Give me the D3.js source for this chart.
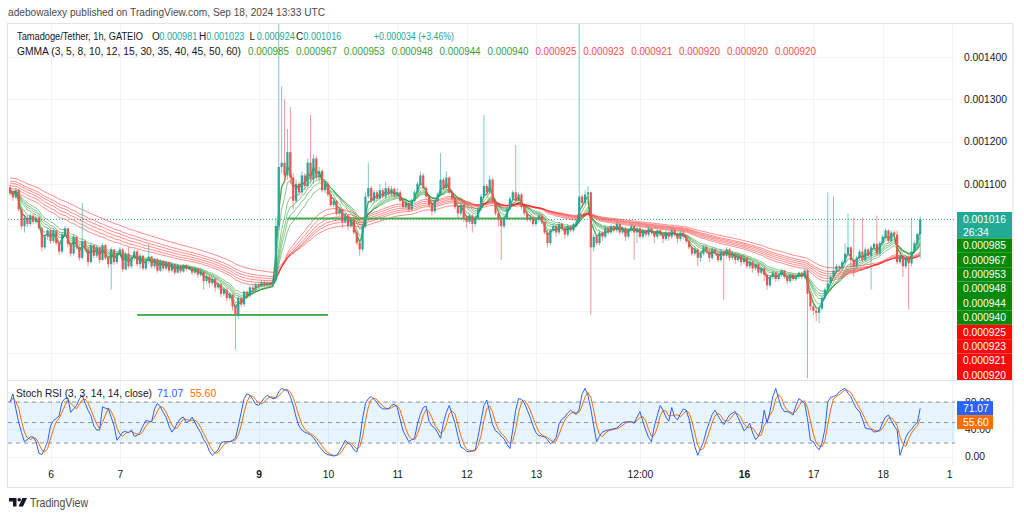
<!DOCTYPE html>
<html><head><meta charset="utf-8">
<script src="https://cdn.jsdelivr.net/npm/d3@7"></script>
<style>
body{margin:0;background:#fff;}
svg{display:block;font-family:"Liberation Sans",Arial,sans-serif;}
</style>
</head><body>
<svg id="c" width="1024" height="517"></svg>
<script>
// ---------- DATA (prices in units of 1e-6 USDT) ----------
const PRICE_UNIT = 1e-6;
const startTime = "2024-09-05T10:00:00Z"; // first hourly candle
const firstOpen = 1092;
const closes = [
1078,1068,1085,1040,1000,1020,1005,1025,1010,1020,995,950,975,990,
965,990,960,940,980,995,958,935,975,950,925,965,945,915,955,930,950,920,955,925,910,945,915,935,
945,898,935,905,925,940,910,930,900,918,928,905,922,895,918,900,915,895,910,890,906,893,908,900,
900,890,898,885,892,870,880,865,875,855,862,840,850,830,838,810,790,830,815,845,835,855,850,862,
858,868,860,866,862,872,1000,1140,1150,1120,1175,1115,1060,1100,1080,1120,1095,1150,1110,1160,1115,1130,1085,1100,
1075,1050,1060,1030,1040,1010,1025,1000,1015,985,960,945,1000,1070,1090,1060,1080,1065,1085,1070,1090,1075,1088,1072,
1080,1060,1045,1055,1040,1060,1080,1100,1120,1090,1070,1050,1035,1060,1075,1110,1090,1115,1080,1065,1045,1030,1050,1020,
1010,1025,1005,1020,1040,1070,1095,1080,1110,1060,1030,1015,1000,1020,1040,1065,1080,1060,1075,1045,1030,1015,1020,1005,
1015,1025,1010,985,960,990,1000,985,1005,995,980,1000,990,1005,1010,1070,1055,1075,1080,950,975,960,985,975,
995,985,1000,990,1005,985,995,975,990,1000,985,995,975,990,980,995,985,975,990,980,970,985,975,990,
980,970,985,975,965,950,935,945,925,935,950,940,925,945,935,920,940,930,945,925,935,920,930,915,
925,905,915,900,910,890,900,885,860,880,890,875,885,895,880,870,885,875,880,890,880,895,840,810,
800,795,805,830,850,865,880,895,905,900,915,935,950,920,905,925,940,920,945,930,950,958,935,960,
975,990,965,985,980,915,930,905,925,912,940,960,981,1016];
const highs = [
1098,1082,1090,1088,1045,1026,1024,1030,1028,1024,1022,998,980,996,
995,995,992,965,985,1000,996,962,980,976,955,1055,968,950,960,955,955,950,960,958,930,950,945,940,
950,948,940,950,930,945,944,935,932,922,958,930,925,924,922,920,918,917,914,912,910,908,910,910,
906,904,902,900,896,895,885,884,880,878,866,865,855,853,842,840,815,835,833,848,848,860,862,866,
866,872,872,870,870,878,1020,1490,1330,1300,1230,1282,1125,1110,1105,1130,1125,1160,1263,1170,1165,1140,1135,1110,
1105,1080,1065,1062,1045,1042,1030,1028,1020,1018,990,965,1005,1080,1150,1095,1085,1085,1100,1090,1105,1095,1095,1092,
1090,1085,1065,1060,1058,1065,1085,1105,1128,1125,1095,1075,1055,1065,1080,1173,1115,1130,1118,1085,1068,1050,1055,1052,
1025,1030,1028,1025,1045,1075,1263,1100,1120,1115,1065,1035,1020,1025,1045,1070,1085,1192,1080,1078,1050,1035,1025,1025,
1020,1030,1028,1012,990,995,1005,1003,1010,1008,998,1005,1002,1008,1015,1490,1075,1085,1095,1082,980,978,990,988,
1000,998,1004,1003,1010,1008,1000,998,994,1005,1003,998,998,994,992,998,997,988,994,993,982,990,988,995,
995,985,990,988,978,968,952,950,948,940,955,955,945,950,948,938,945,942,950,948,940,938,935,932,
930,928,918,918,912,912,903,902,888,883,895,892,888,898,897,884,888,888,885,893,892,900,898,845,
815,805,810,835,855,1080,885,1070,910,908,920,960,1030,952,1020,930,945,1020,950,948,955,962,1025,965,
980,995,992,990,990,990,935,932,930,930,1020,965,985,1023];
const lows = [
1072,1060,1064,1035,992,985,998,1000,1004,1005,990,940,945,968,
958,960,955,932,935,975,950,928,930,945,918,920,938,905,912,925,925,912,918,920,900,850,908,910,
930,892,895,900,900,918,905,900,895,895,910,900,900,890,892,895,895,890,892,885,888,888,890,894,
895,885,886,878,880,850,865,855,860,845,850,832,835,822,826,800,708,780,808,810,828,830,845,845,
852,855,855,858,856,858,865,990,1125,1105,1110,1100,1040,1055,1070,1075,1085,1090,1100,1100,1110,1105,1080,1078,
1070,1045,1045,1025,1025,995,1005,990,995,980,955,930,940,995,1065,1055,1055,1060,1060,1065,1065,1070,1070,1065,
1068,1055,1040,1040,1035,1035,1055,1075,1095,1085,1065,1045,1025,1030,1055,1070,1085,1085,1075,1060,1040,1020,1025,1010,
995,1005,985,1000,1015,1035,1065,1070,1075,1055,1025,1000,920,995,1015,1035,1060,1055,1055,1040,1025,1010,1010,1000,
1000,1010,1005,980,950,955,985,975,980,990,970,975,985,985,1000,1005,1045,1050,1070,790,940,955,955,965,
970,980,982,985,985,980,980,965,970,985,920,960,970,970,975,975,980,960,970,975,960,965,965,970,
975,960,965,970,960,945,930,930,905,915,930,935,915,920,930,915,915,826,925,918,920,910,915,905,
910,900,900,890,895,882,885,870,850,855,875,868,870,880,875,862,866,870,870,875,875,875,640,800,
790,775,771,800,825,845,860,875,890,895,895,910,930,900,880,900,920,915,915,925,850,945,930,930,
955,970,960,960,975,910,910,880,900,802,905,935,955,924];
// Stoch RSI %K (blue) read hourly; %D is its 3-bar average
const stochK = [
80,92,70,50,35,22,25,29,29,22,5,3,12,22,
45,53,56,60,80,85,86,65,70,75,85,90,78,68,60,45,39,39,73,71,70,58,45,24,
30,36,37,35,39,30,31,36,45,53,52,51,70,78,73,65,58,45,36,42,50,56,58,50,
52,58,50,42,35,25,19,8,2,6,10,20,22,22,22,24,27,45,65,85,92,90,84,77,
75,80,86,90,87,85,86,95,100,98,97,88,75,58,45,39,36,34,32,28,22,15,10,5,
3,2,1,2,8,16,24,20,17,10,7,25,55,78,85,88,84,79,73,70,70,70,75,77,
72,55,38,30,22,25,27,48,62,72,74,52,45,42,35,27,50,65,75,62,49,30,14,12,
8,7,9,10,30,53,75,83,65,47,38,35,30,26,18,12,40,68,85,84,79,68,58,45,
35,31,30,29,25,19,22,28,48,55,58,64,68,64,62,70,92,100,90,70,45,22,30,36,
38,39,40,41,42,46,50,51,51,51,49,58,66,52,39,28,22,45,60,75,68,58,52,72,
58,54,63,70,68,55,34,15,2,12,22,38,50,62,68,60,53,47,54,61,64,66,57,48,
38,42,49,35,25,30,40,68,49,66,88,100,85,72,66,66,64,61,75,85,82,78,55,24,
22,15,10,20,40,80,87,88,90,95,98,100,93,88,78,70,66,55,42,41,40,36,37,39,
50,58,61,53,45,39,2,15,28,36,40,46,50,71.07];
const gmmaPeriods = [3,5,8,10,12,15,30,35,40,45,50,60];
const gmmaSeed    = [1082,1082,1083,1084,1085,1086,1082,1090,1097,1103,1108,1116];
const gmmaLegend  = ["0.000985","0.000967","0.000953","0.000948","0.000944","0.000940","0.000925","0.000923","0.000921","0.000920","0.000920","0.000920"];
const symbolText = "Tamadoge/Tether, 1h, GATEIO";
const ohlcKeys = ["O","H","L","C"];
const ohlcVals = ["0.000981","0.001023","0.000924","0.001016"];
const changeText = "+0.000034 (+3.46%)";
const lastPrice = 1016, countdown = "26:34";
const stochLast = ["71.07","55.60"];
const xTickDates  = ["2024-09-06","2024-09-07","2024-09-09","2024-09-10","2024-09-11","2024-09-12","2024-09-13","2024-09-14T12:00","2024-09-16","2024-09-17","2024-09-18","2024-09-19"];
const xTickLabels = ["6","7","9","10","11","12","13","12:00","16","17","18","19"];
const xTickBold   = ["9","16"];
const priceGrid   = [700,800,900,1000,1100,1200,1300,1400];
const priceLabels = [1100,1200,1300,1400]; // lower labels are covered by the value boxes
const rsiTicks = [0,40,80];
const rsiBands = [80,50,20];
const trendLines = [
  {v:790,  from:"2024-09-07T06:00:00Z", to:"2024-09-10T00:00:00Z"},
  {v:1018, from:"2024-09-09T10:00:00Z", to:"2024-09-13T03:00:00Z"}];

// ---------- BUILD ----------
const svg = d3.select("#c");
const L = 8, R = 955, PT = 24, PB = 380, RT = 381, RB = 466;
const parseTick = d => new Date(d + (d.length > 10 ? ":00Z" : "T00:00:00Z"));
const xs = d3.scaleUtc().domain([new Date("2024-09-06T00:00:00Z"), new Date("2024-09-19T00:00:00Z")]).range([50.5, 952]);
const ys = d3.scaleLinear().domain([700,1400]).range([353,57]);
const yr = d3.scaleLinear().domain([0,100]).range([456.7,388.4]);
const t0 = new Date(startTime).getTime();
const candles = closes.map((c,i)=>{
  const o = i===0 ? firstOpen : closes[i-1];
  return {t:new Date(t0+i*3600e3), o, c, h:Math.max(highs[i],o,c), l:Math.min(lows[i],o,c)};
});
const defs = svg.append("defs");
defs.append("clipPath").attr("id","cp").append("rect").attr("x",L).attr("y",PT).attr("width",R-L).attr("height",PB-PT);
defs.append("clipPath").attr("id","cr").append("rect").attr("x",L).attr("y",RT).attr("width",R-L).attr("height",RB-RT);
defs.append("clipPath").attr("id","ca").append("rect").attr("x",L).attr("y",PT).attr("width",1013-L).attr("height",PB-PT);
defs.append("clipPath").attr("id","ct").append("rect").attr("x",L).attr("y",460).attr("width",953-L).attr("height",30);

// header
svg.append("text").attr("x",8).attr("y",16).attr("font-size",11).attr("fill","#4a4a4a")
  .attr("textLength",317).attr("lengthAdjust","spacingAndGlyphs")
  .text("adebowalexy published on TradingView.com, Sep 18, 2024 13:33 UTC");

// frame
svg.append("rect").attr("x",7.5).attr("y",23.5).attr("width",1005.5).attr("height",464).attr("fill","none").attr("stroke","#e0e3eb");
svg.append("line").attr("x1",8).attr("x2",1013).attr("y1",380.5).attr("y2",380.5).attr("stroke","#e0e3eb");

// gridlines
const grid = svg.append("g").attr("stroke","#f0f3fa").attr("stroke-width",1);
xTickDates.forEach(d=>{const x=Math.round(xs(parseTick(d)))+0.5;
  grid.append("line").attr("x1",x).attr("x2",x).attr("y1",PT).attr("y2",PB);
  grid.append("line").attr("x1",x).attr("x2",x).attr("y1",RT).attr("y2",RB);});
priceGrid.forEach(v=>{const y=Math.round(ys(v))+0.5; grid.append("line").attr("x1",L).attr("x2",R).attr("y1",y).attr("y2",y);});
rsiTicks.forEach(v=>{const y=Math.round(yr(v))+0.5; grid.append("line").attr("x1",L).attr("x2",R).attr("y1",y).attr("y2",y);});

// price pane
const pp = svg.append("g").attr("clip-path","url(#cp)");
pp.append("line").attr("x1",L).attr("x2",R).attr("y1",ys(lastPrice)).attr("y2",ys(lastPrice))
  .attr("stroke","#22ab94").attr("stroke-dasharray","1,2").attr("stroke-width",1);
// GMMA
const emaSeries = gmmaPeriods.map((p,k)=>{let e=gmmaSeed[k]; const a=2/(p+1);
  return candles.map(d=>{e = a*d.c + (1-a)*e; return {t:d.t, v:e};});});
const lineGen = d3.line().x(d=>xs(d.t)).y(d=>ys(d.v));
emaSeries.forEach((s,k)=>{
  const short = k<6;
  pp.append("path").datum(s).attr("d",lineGen).attr("fill","none")
    .attr("stroke", short ? "#0e8f1e" : "#ff1a1a")
    .attr("stroke-opacity", short ? (k===0?0.75:0.5) : 0.5)
    .attr("stroke-width", short && k===0 ? 1.4 : 1);
});
// trend lines
trendLines.forEach(tl=>pp.append("line").attr("x1",xs(new Date(tl.from))).attr("x2",xs(new Date(tl.to)))
  .attr("y1",ys(tl.v)).attr("y2",ys(tl.v)).attr("stroke","#4caf50").attr("stroke-width",2));
// candles
const cg = pp.append("g");
cg.selectAll("line.w").data(candles).join("line").attr("class","w")
  .attr("x1",d=>xs(d.t)).attr("x2",d=>xs(d.t)).attr("y1",d=>ys(d.h)).attr("y2",d=>ys(d.l))
  .attr("stroke",d=>d.c>=d.o?"#26a69a":"#ef5350").attr("stroke-opacity",0.6).attr("stroke-width",1);
cg.selectAll("rect").data(candles).join("rect")
  .attr("x",d=>xs(d.t)-1.1).attr("width",2.2)
  .attr("y",d=>ys(Math.max(d.o,d.c))).attr("height",d=>Math.max(1,Math.abs(ys(d.o)-ys(d.c))))
  .attr("fill",d=>d.c>=d.o?"#26a69a":"#ef5350");

// legend line 1 (one text element, positioned tspans)
const l1 = svg.append("text").attr("y",40).attr("font-size",10).attr("fill","#131722");
l1.append("tspan").attr("x",17).attr("textLength",126).attr("lengthAdjust","spacingAndGlyphs").text(symbolText);
const ohlcX = [152,199,249.5,296];
ohlcKeys.forEach((k,i)=>{
  l1.append("tspan").attr("x",ohlcX[i]).attr("fill","#131722").text(k);
  l1.append("tspan").attr("x",ohlcX[i]+7.3).attr("fill","#26a69a").attr("textLength",38).attr("lengthAdjust","spacingAndGlyphs").text(ohlcVals[i]);
});
l1.append("tspan").attr("x",374).attr("fill","#26a69a").attr("textLength",80).attr("lengthAdjust","spacingAndGlyphs").text(changeText);
// legend line 2
const l2 = svg.append("text").attr("y",54.5).attr("font-size",10);
l2.append("tspan").attr("x",17).attr("fill","#131722").attr("textLength",224).attr("lengthAdjust","spacingAndGlyphs").text("GMMA (3, 5, 8, 10, 12, 15, 30, 35, 40, 45, 50, 60)");
gmmaLegend.forEach((v,k)=>l2.append("tspan").attr("x",248+47.9*k)
  .attr("fill",k<6?"#3a9e3a":"#ff4d4d").attr("textLength",41).attr("lengthAdjust","spacingAndGlyphs").text(v));

// price axis
const pa = svg.append("g").attr("clip-path","url(#ca)");
const yAxis = d3.axisRight(ys).tickValues(priceLabels).tickSize(0).tickPadding(0).tickFormat(v=>(v*PRICE_UNIT).toFixed(6));
const ag = pa.append("g").attr("transform","translate(964,0)").call(yAxis);
ag.select(".domain").remove();
ag.selectAll("text").attr("fill","#131722").attr("font-size",10.3).attr("font-family","Liberation Sans,Arial,sans-serif");

// price label boxes
const bx = 957, bw = 55, lh = 14.4;
const yl = ys(lastPrice);
pa.append("rect").attr("x",bx).attr("y",yl-7.4).attr("width",bw).attr("height",26.4).attr("fill","#22ab94");
pa.append("text").attr("x",963).attr("y",yl+3.7).attr("fill","#fff").attr("font-size",10.3).text((lastPrice*PRICE_UNIT).toFixed(6));
pa.append("text").attr("x",963).attr("y",yl+16.5).attr("fill","#fff").attr("font-size",10.3).text(countdown);
let bottom = yl-7.4+26.4;
gmmaLegend.map((v,k)=>({v:+v/PRICE_UNIT,k,s:v})).sort((a,b)=>b.v-a.v).forEach(d=>{
  let top = Math.max(ys(d.v)-lh/2, bottom);
  pa.append("rect").attr("x",bx).attr("y",top).attr("width",bw).attr("height",lh).attr("fill",d.k<6?"#088a08":"#fa0a0a");
  if (top < PB) pa.append("text").attr("x",963).attr("y",top+lh/2+3.7).attr("fill","#fff").attr("font-size",10.3).text(d.s);
  bottom = top+lh;
});

// stoch RSI pane
const rp = svg.append("g").attr("clip-path","url(#cr)");
rp.append("rect").attr("x",L).attr("width",R-L).attr("y",yr(80)).attr("height",yr(20)-yr(80)).attr("fill","rgba(33,150,243,0.1)");
rsiBands.forEach(v=>rp.append("line").attr("x1",L).attr("x2",R).attr("y1",yr(v)).attr("y2",yr(v))
  .attr("stroke","#787b86").attr("stroke-opacity",0.8).attr("stroke-dasharray","4,4"));
const kPts = stochK.map((v,i)=>({t:candles[i].t, v}));
const dPts = stochK.map((v,i)=>{const s=stochK.slice(Math.max(0,i-2),i+1); return {t:candles[i].t, v:d3.mean(s)};});
const rl = d3.line().x(d=>xs(d.t)).y(d=>yr(d.v));
rp.append("path").datum(dPts).attr("d",rl).attr("fill","none").attr("stroke","#ff6d00").attr("stroke-width",1);
rp.append("path").datum(kPts).attr("d",rl).attr("fill","none").attr("stroke","#2962ff").attr("stroke-width",1);
const sl = svg.append("text").attr("y",397).attr("font-size",10.5);
sl.append("tspan").attr("x",16).attr("fill","#131722").attr("textLength",136).attr("lengthAdjust","spacingAndGlyphs").text("Stoch RSI (3, 3, 14, 14, close)");
sl.append("tspan").attr("x",157).attr("fill","#2962ff").text(stochLast[0]);
sl.append("tspan").attr("x",190).attr("fill","#ff6d00").text(stochLast[1]);
// rsi axis
const rAxis = d3.axisRight(yr).tickValues(rsiTicks).tickSize(0).tickPadding(0).tickFormat(v=>v.toFixed(2));
const rg = svg.append("g").attr("transform","translate(965,0)").call(rAxis);
rg.select(".domain").remove();
rg.selectAll("text").attr("fill","#131722").attr("font-size",10.3).attr("font-family","Liberation Sans,Arial,sans-serif");
let rb = -1e9;
[[+stochLast[0],"#2962ff",stochLast[0]],[+stochLast[1],"#ff6d00",stochLast[1]]].forEach(([v,col,s])=>{
  const top = Math.max(yr(v)-7, rb);
  svg.append("rect").attr("x",bx).attr("y",top).attr("width",36).attr("height",14).attr("fill",col);
  svg.append("text").attr("x",963).attr("y",top+10.8).attr("fill","#fff").attr("font-size",10.3).text(s);
  rb = top+14;
});

// time axis
const xAxis = d3.axisBottom(xs).tickValues(xTickDates.map(parseTick))
  .tickSize(0).tickPadding(0).tickFormat((d,i)=>xTickLabels[i]);
const xg = svg.append("g").attr("clip-path","url(#ct)").append("g").attr("transform","translate(0,470.5)").call(xAxis);
xg.select(".domain").remove();
xg.selectAll("text").attr("fill","#131722").attr("font-size",10.3).attr("font-family","Liberation Sans,Arial,sans-serif")
  .attr("font-weight",(d,i)=>xTickBold.includes(xTickLabels[i])?"bold":"normal");

// footer logo
const fl = svg.append("g").attr("fill","#131722");
fl.append("path").attr("d","M9,498 h7.5 v8.5 h-3.5 v-5 h-4 z");
fl.append("circle").attr("cx",19.2).attr("cy",499.8).attr("r",1.8);
fl.append("path").attr("d","M22.5,498 h4.5 l-4,8.5 h-4.5 z");
svg.append("text").attr("x",30).attr("y",506.5).attr("font-size",12).attr("fill","#4a4a4a")
  .attr("textLength",58).attr("lengthAdjust","spacingAndGlyphs").text("TradingView");
</script>
</body></html>
